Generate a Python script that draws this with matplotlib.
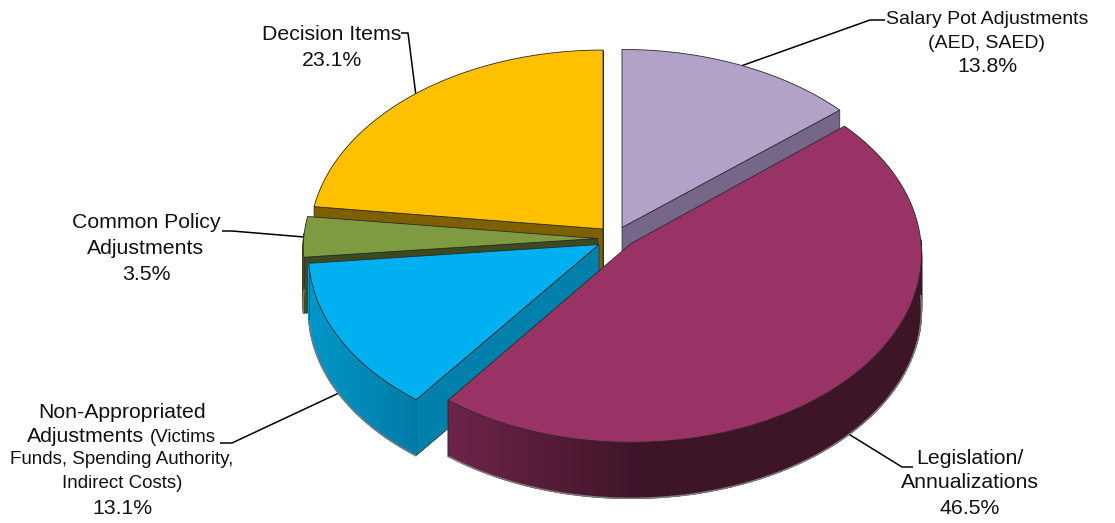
import numpy as np
import matplotlib
matplotlib.use("Agg")
import matplotlib.pyplot as plt
from matplotlib.colors import to_rgb
from matplotlib.patches import Polygon

plt.rcParams['font.family'] = ['Liberation Sans', 'DejaVu Sans']

# Budget shares, clockwise from twelve o'clock
categories = ["Salary Pot", "Legislation", "Non-Appropriated", "Common Policy", "Decision Items"]
shares = [13.8, 46.5, 13.1, 3.5, 23.1]
top_colors = ["#B2A2C7", "#993366", "#00B0F0", "#7F9B42", "#FFC000"]
wall_colors = ["#75668A", "#6B2448", "#0080AB", "#3C4A20", "#7F6000"]
arc_left = ["#75668A", "#6D2449", "#0096C8", "#3C4A20", "#7F6000"]
arc_right = ["#75668A", "#3E1427", "#007CA6", "#3C4A20", "#7F6000"]

# Apex of each exploded slice and its size factors on the page
apex = [(622, 227.5), (631, 243.5), (599, 244.5), (598, 238.5), (603, 229)]
stretch = [(1.02, 1.01), (1.0, 1.01), (1.0, 1.0), (1.015, 1.0), (1.01, 1.015)]

# Which cut faces of each slice show: start edge, end edge
cut_faces = [(True, True), (False, False), (True, False), (True, False), (True, True)]

RX, RY, PERSP, DEPTH = 290.0, 186.0, 0.055, 56.0

fig = plt.figure(figsize=(11.15, 5.23), dpi=100)
ax = fig.add_axes([0, 0, 1, 1])
ax.set_xlim(0, 1115)
ax.set_ylim(523, 0)
ax.axis("off")


def rim(theta, k):
    """Page position of the rim at clock angle theta for slice k."""
    X, Y = np.sin(theta), np.cos(theta)
    w = 1 + PERSP * Y
    return (apex[k][0] + stretch[k][0] * RX * X / w,
            apex[k][1] - stretch[k][1] * RY * Y / w)


edges = np.radians(np.concatenate([[0], np.cumsum(shares)]) * 3.6)
EDGE = "#2a2a2a"

# Painter's order: rear slices first, the large front slice last
z = 1.0
for k in [0, 4, 3, 2, 1]:
    t0, t1 = edges[k], edges[k + 1]
    ts = np.linspace(t0, t1, max(int(np.degrees(t1 - t0)), 4) + 1)
    xs, ys = rim(ts, k)
    ax_, ay_ = apex[k]

    # Straight cut faces
    for t, shown in zip((t0, t1), cut_faces[k]):
        if shown:
            ex, ey = rim(t, k)
            ax.add_patch(Polygon([(ax_, ay_), (ex, ey), (ex, ey + DEPTH), (ax_, ay_ + DEPTH)],
                                 closed=True, fc=wall_colors[k], ec=EDGE, lw=0.5, zorder=z))

    # Curved outer face, shaded in narrow strips
    facing = np.cos(ts) < 0.03
    xf, yf = xs[facing], ys[facing]
    if len(xf) > 1:
        cl, cr = np.array(to_rgb(arc_left[k])), np.array(to_rgb(arc_right[k]))
        xa, xb = xf.min(), min(xf.min() + 190, xf.max())
        order = range(len(xf) - 1)
        for i in order:
            f = np.clip(((xf[i] + xf[i + 1]) / 2 - xa) / max(xb - xa, 1), 0, 1)
            c = cl + (cr - cl) * f
            ax.add_patch(Polygon([(xf[i], yf[i]), (xf[i + 1], yf[i + 1]),
                                  (xf[i + 1], yf[i + 1] + DEPTH), (xf[i], yf[i] + DEPTH)],
                                 closed=True, fc=c, ec=c, lw=1.0, zorder=z + 0.1))
        ax.plot(xf, yf + DEPTH, color="#7a7a7a", lw=1.1, solid_capstyle="round", zorder=z + 0.2)
        ax.plot([xf[-1], xf[-1]], [yf[-1], yf[-1] + DEPTH], color=EDGE, lw=0.4, zorder=z + 0.2)

    # Top surface
    ax.add_patch(Polygon(np.column_stack([np.r_[ax_, xs], np.r_[ay_, ys]]), closed=True,
                         fc=top_colors[k], ec=EDGE, lw=0.6, joinstyle="miter", zorder=z + 0.3))
    z += 1.0

# Leader lines
leaders = [
    [(885, 20), (870, 20), (741, 66)],
    [(913, 467), (902, 467), (847, 433)],
    [(220, 443), (232, 443), (341, 392)],
    [(222, 231), (232, 231), (304, 237)],
    [(401, 33), (408, 33), (416, 96)],
]
for pts in leaders:
    px, py = zip(*pts)
    ax.plot(px, py, color="black", lw=1.1, solid_capstyle="butt", zorder=0.5)

BIG, MID, SMALL = 15.3, 14.0, 13.5
tx = dict(color="#111111", ha="center", va="center")

ax.text(987, 20, "Salary Pot Adjustments", fontsize=MID, **tx)
ax.text(987, 43, "(AED, SAED)", fontsize=MID, **tx)
ax.text(987, 66, f"{shares[0]}%", fontsize=BIG, **tx)

ax.text(332, 35, "Decision Items", fontsize=BIG, **tx)
ax.text(332, 60, f"{shares[4]}%", fontsize=BIG, **tx)

ax.text(146, 223, "Common Policy", fontsize=BIG, **tx)
ax.text(146, 248, "Adjustments", fontsize=BIG, **tx)
ax.text(146, 274, f"{shares[3]}%", fontsize=BIG, **tx)

ax.text(122, 413, "Non-Appropriated", fontsize=BIG, **tx)
ax.text(27, 437, "Adjustments", fontsize=BIG, color="#111111", ha="left", va="center")
ax.text(150, 438, "(Victims", fontsize=SMALL, color="#111111", ha="left", va="center")
ax.text(122, 460, "Funds, Spending Authority,", fontsize=SMALL, **tx)
ax.text(122, 484, "Indirect Costs)", fontsize=SMALL, **tx)
ax.text(122, 508, f"{shares[2]}%", fontsize=BIG, **tx)

ax.text(970, 458, "Legislation/", fontsize=BIG, **tx)
ax.text(970, 482, "Annualizations", fontsize=BIG, **tx)
ax.text(970, 508, f"{shares[1]}%", fontsize=BIG, **tx)

fig.savefig("out.png", dpi=100, facecolor="white")
